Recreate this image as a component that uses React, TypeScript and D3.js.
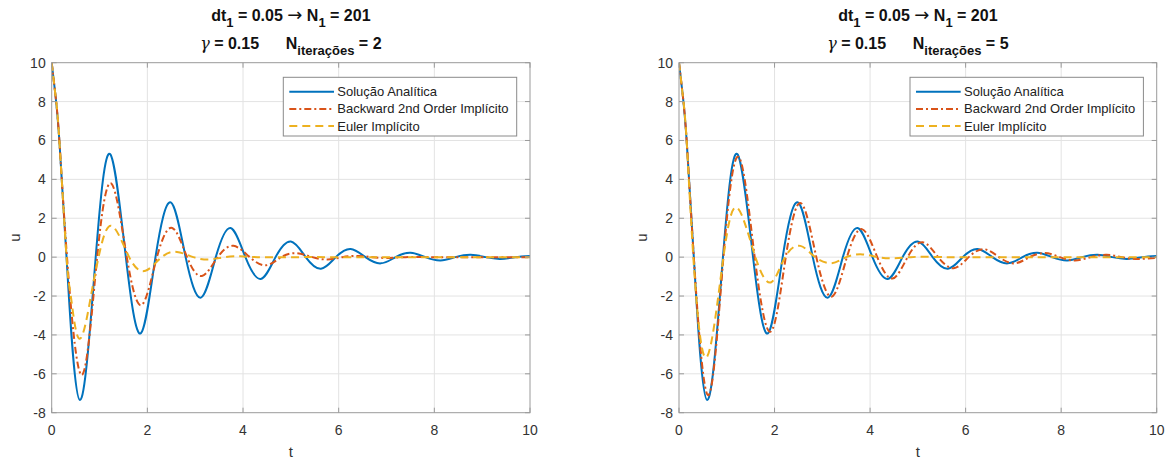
import { useEffect, useRef } from 'react';
import * as d3 from 'd3';

const xTicks = [0, 2, 4, 6, 8, 10];
const yTicks = [-8, -6, -4, -2, 0, 2, 4, 6, 8, 10];
const legendLabels = ['Solução Analítica', 'Backward 2nd Order Implícito', 'Euler Implícito'];
const iterations = [2, 5];

// Solução analítica (same in both panels)
const tAnalytic = [0, 0.08, 0.16, 0.31, 0.59, 0.92, 1.22, 1.55, 1.86, 2.17, 2.49, 2.8, 3.12, 3.43, 3.74, 4.05, 4.37, 4.68, 5.0, 5.31, 5.63, 5.94, 6.25, 6.56, 6.88, 7.19, 7.5, 7.81, 8.13, 8.44, 8.76, 9.07, 9.38, 9.69, 10];
const uAnalytic = [10, 8.3, 6.0, 0, -7.35, 0, 5.3, 0, -3.92, 0, 2.82, 0, -2.08, 0, 1.5, 0, -1.12, 0, 0.8, 0, -0.6, 0, 0.42, 0, -0.32, 0, 0.22, 0, -0.17, 0, 0.12, 0, -0.09, 0, 0.065];

// Backward 2nd order, 2 iterations
const tBdf2It2 = [0, 0.08, 0.16, 0.32, 0.63, 0.95, 1.25, 1.57, 1.88, 2.2, 2.52, 2.83, 3.14, 3.47, 3.8, 4.14, 4.48, 4.8, 5.12, 5.45, 5.77, 6.08, 6.4, 6.7, 7.0, 7.4, 8.0, 9.0, 10];
const uBdf2It2 = [10, 8.3, 6.0, 0, -6.06, 0, 3.78, 0, -2.46, 0, 1.5, 0, -0.97, 0, 0.58, 0, -0.42, 0, 0.2, 0, -0.12, 0, 0.06, 0, -0.04, 0, 0, 0, 0];

// Euler implícito, 2 iterations
const tEulerIt2 = [0, 0.08, 0.16, 0.31, 0.4, 0.58, 0.82, 0.98, 1.24, 1.62, 1.96, 2.3, 2.62, 2.96, 3.3, 3.62, 3.95, 4.3, 5, 6, 7, 8, 9, 10];
const uEulerIt2 = [10, 8.3, 6.0, 0, -2, -4.2, -2, 0, 1.62, 0, -0.7, 0, 0.27, 0, -0.12, 0, 0.04, 0, 0, 0, 0, 0, 0, 0];

// Backward 2nd order, 5 iterations
const tBdf2It5 = [0, 0.08, 0.16, 0.31, 0.61, 0.93, 1.25, 1.585, 1.92, 2.235, 2.55, 2.875, 3.2, 3.515, 3.83, 4.15, 4.47, 4.785, 5.1, 5.425, 5.75, 6.065, 6.38, 6.7, 7.02, 7.34, 7.66, 7.975, 8.29, 8.62, 8.95, 9.27, 9.6, 10];
const uBdf2It5 = [10, 8.3, 6.0, 0, -7.1, 0, 5.15, 0, -3.83, 0, 2.78, 0, -2.03, 0, 1.44, 0, -1.1, 0, 0.77, 0, -0.57, 0, 0.41, 0, -0.32, 0, 0.21, 0, -0.17, 0, 0.12, 0, -0.09, -0.03];

// Euler implícito, 5 iterations
const tEulerIt5 = [0, 0.08, 0.16, 0.3, 0.57, 0.93, 1.23, 1.6, 1.93, 2.22, 2.54, 2.85, 3.2, 3.5, 3.84, 4.17, 4.5, 4.85, 5.2, 5.6, 6, 7, 8, 9, 10];
const uEulerIt5 = [10, 8.3, 6.0, 0, -5.17, 0, 2.52, 0, -1.29, 0, 0.58, 0, -0.31, 0, 0.14, 0, -0.06, 0, 0.02, 0, 0, 0, 0, 0, 0];

const colors = ['#0072BD', '#D95319', '#EDB120'];
const dashes = [null, '7,3,2,3', '8,5'];
const font = '"Liberation Sans", Arial, Helvetica, sans-serif';

const zip = (t: number[], u: number[]) => t.map((v, i) => [v, u[i]] as [number, number]);

const panels = [
  { left: 51.7, right: 530, series: [zip(tAnalytic, uAnalytic), zip(tBdf2It2, uBdf2It2), zip(tEulerIt2, uEulerIt2)] },
  { left: 679, right: 1156.7, series: [zip(tAnalytic, uAnalytic), zip(tBdf2It5, uBdf2It5), zip(tEulerIt5, uEulerIt5)] },
];

export default function App() {
  const svgRef = useRef<SVGSVGElement>(null);

  useEffect(() => {
    const svg = d3.select(svgRef.current);
    svg.selectAll('*').remove();

    const top = 62.7;
    const bottom = 412.7;

    panels.forEach((p, pi) => {
      const x = d3.scaleLinear().domain([0, 10]).range([p.left, p.right]);
      const y = d3.scaleLinear().domain([-8, 10]).range([bottom, top]);
      const cx = (p.left + p.right) / 2;
      const g = svg.append('g');

      // grid
      g.selectAll('.gx').data(xTicks.slice(1, -1)).enter().append('line')
        .attr('x1', (d) => x(d)).attr('x2', (d) => x(d)).attr('y1', top).attr('y2', bottom)
        .attr('stroke', '#e3e3e3').attr('stroke-width', 1);
      g.selectAll('.gy').data(yTicks.slice(1, -1)).enter().append('line')
        .attr('y1', (d) => y(d)).attr('y2', (d) => y(d)).attr('x1', p.left).attr('x2', p.right)
        .attr('stroke', '#e3e3e3').attr('stroke-width', 1);

      // curves
      const clipId = `clip${pi}`;
      g.append('clipPath').attr('id', clipId).append('rect')
        .attr('x', p.left).attr('y', top - 2).attr('width', p.right - p.left).attr('height', bottom - top + 4);
      const line = d3.line<[number, number]>().x((d) => x(d[0])).y((d) => y(d[1])).curve(d3.curveNatural);
      p.series.forEach((s, i) => {
        g.append('path').datum(s).attr('d', line).attr('fill', 'none')
          .attr('clip-path', `url(#${clipId})`)
          .attr('stroke', colors[i]).attr('stroke-width', 2)
          .attr('stroke-dasharray', dashes[i]);
      });

      // box and ticks
      g.append('rect').attr('x', p.left).attr('y', top).attr('width', p.right - p.left).attr('height', bottom - top)
        .attr('fill', 'none').attr('stroke', '#9a9a9a').attr('stroke-width', 1);
      xTicks.forEach((t) => {
        g.append('line').attr('x1', x(t)).attr('x2', x(t)).attr('y1', bottom).attr('y2', bottom - 5).attr('stroke', '#9a9a9a');
        g.append('line').attr('x1', x(t)).attr('x2', x(t)).attr('y1', top).attr('y2', top + 5).attr('stroke', '#9a9a9a');
        g.append('text').attr('x', x(t)).attr('y', 435).attr('text-anchor', 'middle')
          .style('font-family', font).style('font-size', '14px').attr('fill', '#333').text(t);
      });
      yTicks.forEach((t) => {
        g.append('line').attr('x1', p.left).attr('x2', p.left + 5).attr('y1', y(t)).attr('y2', y(t)).attr('stroke', '#9a9a9a');
        g.append('line').attr('x1', p.right).attr('x2', p.right - 5).attr('y1', y(t)).attr('y2', y(t)).attr('stroke', '#9a9a9a');
        g.append('text').attr('x', p.left - 6).attr('y', y(t) + 5).attr('text-anchor', 'end')
          .style('font-family', font).style('font-size', '14px').attr('fill', '#333').text(t);
      });

      // axis labels
      g.append('text').attr('x', cx).attr('y', 457).attr('text-anchor', 'middle')
        .style('font-family', font).style('font-size', '15px').attr('fill', '#333').text('t');
      g.append('text').attr('transform', `translate(${p.left - 32},${(top + bottom) / 2}) rotate(-90)`)
        .attr('text-anchor', 'middle')
        .style('font-family', font).style('font-size', '15px').attr('fill', '#333').text('u');

      // title
      const t1 = g.append('text').attr('x', cx).attr('y', 21).attr('text-anchor', 'middle')
        .style('font-family', font).style('font-size', '16px').style('font-weight', 'bold')
        .style('white-space', 'pre').attr('fill', '#111');
      t1.append('tspan').text('dt');
      t1.append('tspan').attr('dy', 6).style('font-size', '13px').text('1');
      t1.append('tspan').attr('dy', -6).text(' = 0.05 ');
      t1.append('tspan').style('font-weight', 'normal').style('font-family', '"DejaVu Sans"')
        .style('font-size', '18px').text('→');
      t1.append('tspan').text(' N');
      t1.append('tspan').attr('dy', 6).style('font-size', '13px').text('1');
      t1.append('tspan').attr('dy', -6).text(' = 201');

      const t2 = g.append('text').attr('x', cx).attr('y', 49).attr('text-anchor', 'middle')
        .style('font-family', font).style('font-size', '16px').style('font-weight', 'bold')
        .style('white-space', 'pre').attr('fill', '#111');
      t2.append('tspan').style('font-weight', 'normal').style('font-family', '"DejaVu Serif"')
        .style('font-style', 'italic').text('γ');
      t2.append('tspan').text(' = 0.15      N');
      t2.append('tspan').attr('dy', 6).style('font-size', '13px').text('iterações');
      t2.append('tspan').attr('dy', -6).text(` = ${iterations[pi]}`);

      // legend
      const lx = p.right - 13.3 - 233.4;
      const ly = top + 14.6;
      g.append('rect').attr('x', lx).attr('y', ly).attr('width', 233.4).attr('height', 58.7)
        .attr('fill', '#fff').attr('stroke', '#8a8a8a').attr('stroke-width', 1);
      legendLabels.forEach((lab, i) => {
        const ry = ly + 14.4 + i * 17.2;
        g.append('line').attr('x1', lx + 6).attr('x2', lx + 50.7).attr('y1', ry).attr('y2', ry)
          .attr('stroke', colors[i]).attr('stroke-width', 2).attr('stroke-dasharray', dashes[i]);
        g.append('text').attr('x', lx + 54).attr('y', ry + 4.5)
          .style('font-family', font).style('font-size', '13px').attr('fill', '#222').text(lab);
      });
    });
  }, []);

  return (
    <svg ref={svgRef} width={1166} height={461}
      style={{ position: 'absolute', left: 0, top: 0, background: '#fff' }} />
  );
}
